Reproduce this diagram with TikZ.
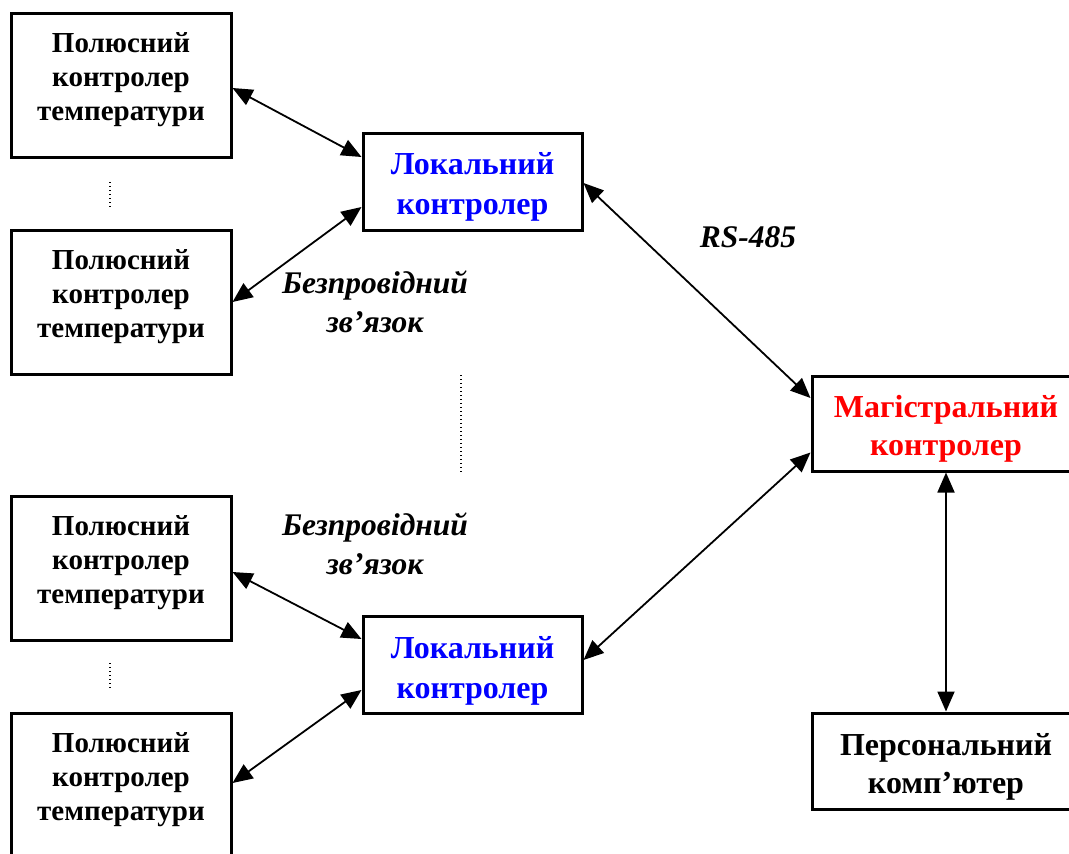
\documentclass[tikz,border=0pt]{standalone}
\usepackage{fontspec}
\setmainfont{Liberation Serif}
\usetikzlibrary{arrows.meta}
\definecolor{localblue}{RGB}{0,0,255}
\definecolor{mainred}{RGB}{255,0,0}
\begin{document}
\begin{tikzpicture}[x=1pt,y=-1pt,
  frame/.style={draw, line width=3pt, inner sep=0pt},
  sensorbox/.style={frame, minimum width=220pt, minimum height=144pt},
  sensortext/.style={align=center, font=\bfseries\fontsize{29}{34}\selectfont, inner sep=0pt},
  localbox/.style={frame, minimum width=219pt, minimum height=97pt},
  localtext/.style={align=center, text=localblue, inner sep=0pt,
    font=\bfseries\fontsize{32}{40}\selectfont},
  mainbox/.style={frame, minimum width=268pt, minimum height=95pt},
  maintext/.style={align=center, inner sep=0pt, font=\bfseries\fontsize{32}{38}\selectfont},
  linklabel/.style={align=center, font=\bfseries\itshape\fontsize{31.5}{39}\selectfont, inner sep=0pt},
  tip/.style={Triangle[length=20pt,width=17pt]},
  conn/.style={{Triangle[length=20pt,width=17pt]}-{Triangle[length=20pt,width=17pt]}, line width=1.8pt},
  gap/.style={line width=1.2pt, dash pattern=on 1.2pt off 2.8pt}
]
\useasboundingbox (0,0) rectangle (1069,854);
\clip (0,0) rectangle (1069,854);

% field temperature controllers
\node[sensorbox] (p1) at (121,85) {};
\node[sensorbox] (p2) at (121,302) {};
\node[sensorbox] (p3) at (121,568) {};
\node[sensorbox] (p4) at (121,785) {};
\node[sensortext] (p1t) at (121,80) {Полюсний\\контролер\\температури};
\node[sensortext] (p2t) at (121,297) {Полюсний\\контролер\\температури};
\node[sensortext] (p3t) at (121,563) {Полюсний\\контролер\\температури};
\node[sensortext] (p4t) at (121,780) {Полюсний\\контролер\\температури};

% local controllers
\node[localbox] (l1) at (472.5,181.5) {};
\node[localbox] (l2) at (472.5,665) {};
\node[localtext] (l1t) at (472.5,187) {Локальний\\контролер};
\node[localtext] (l2t) at (472.5,671) {Локальний\\контролер};

% main controller and PC
\node[mainbox] (m) at (946,423.5) {};
\node[mainbox, minimum height=96pt] (pc) at (946,761) {};
\node[maintext, text=mainred] (mt) at (946,428.5) {Магістральний\\контролер};
\node[maintext] (pct) at (946,766.5) {Персональний\\комп’ютер};

% link labels
\node[linklabel] (w1) at (375,302) {Безпровідний\\зв’язок};
\node[linklabel] (w2) at (375,543.5) {Безпровідний\\зв’язок};
\node[linklabel] (rs) at (748,237) {RS-485};

% omitted devices
\draw[gap] (110,182) -- (110,207);
\draw[gap] (110,663) -- (110,690);
\draw[gap] (461,375) -- (461,472);

% connections
\draw[conn] ([yshift=-3pt]p1.east) -- ([yshift=24.5pt]l1.west);
\draw[conn] (p2.east) -- ([yshift=-25.5pt]l1.west);
\draw[conn] ([yshift=-4pt]p3.east) -- ([yshift=26pt]l2.west);
\draw[conn] ([yshift=2pt]p4.east) -- ([yshift=-25pt]l2.west);
\draw[conn] ([yshift=-1.5pt]l1.east) -- ([yshift=25.5pt]m.west);
\draw[conn] ([yshift=5pt]l2.east) -- ([yshift=-29pt]m.west);
\draw[conn] (m.south) -- (pc.north);
\end{tikzpicture}
\end{document}
